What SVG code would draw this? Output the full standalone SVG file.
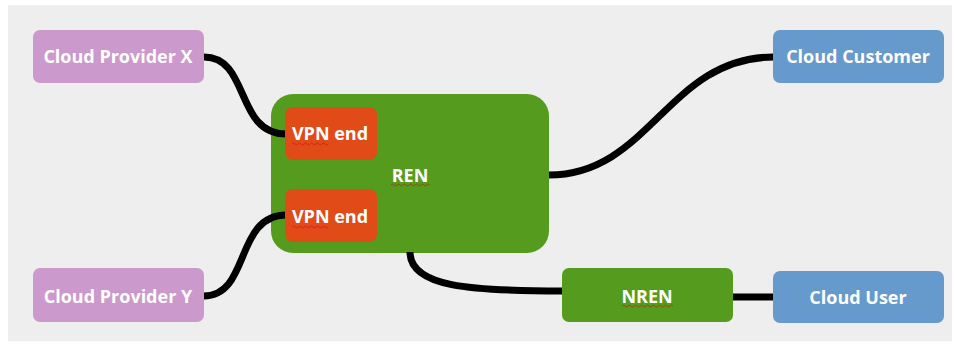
<svg xmlns="http://www.w3.org/2000/svg" width="954" height="344" viewBox="0 0 954 344">
<style>
  .lbl { font-family: "Open Sans", "DejaVu Sans", sans-serif; font-weight: bold; font-size: 18px; fill: #ffffff; text-anchor: middle; dominant-baseline: central; }
  .conn { fill: none; stroke: #000000; stroke-width: 7; }
  .spell { fill: none; stroke: #e02020; stroke-width: 1; }
  .purple { fill: #cc99cc; }
  .blue { fill: #6699cc; }
  .green { fill: #559c1e; }
  .orange { fill: #e04b17; }
</style>
<rect x="8" y="5" width="944" height="336" fill="#eeeeee"/>
<g id="ren">
  <rect class="green" x="271" y="94" width="278" height="159" rx="22"/>
  <text class="lbl" x="410" y="175">REN</text>
  <path class="spell" d="M391,185 q1.5,-2 3,0 t3,0 t3,0 t3,0 t3,0 t3,0 t3,0 t3,0 t3,0 t3,0 t3,0 t3,0 t3,0"/>
</g>
<g id="connectors">
  <path class="conn" d="M204,57 C250,57 235,134 286,134"/>
  <path class="conn" d="M204,296 C250,296 235,215 286,215"/>
  <path class="conn" d="M549,175 C650,175 668,57 774,57"/>
  <path class="conn" d="M410,252 C410,287 470,291 563,291"/>
  <path class="conn" d="M732,297 L774,297"/>
</g>
<g id="vpn1">
  <rect class="orange" x="285" y="107" width="92" height="53" rx="8"/>
  <text class="lbl" x="330" y="133">VPN end</text>
  <path class="spell" d="M292,144 q1.5,-2 3,0 t3,0 t3,0 t3,0 t3,0 t3,0 t3,0 t3,0 t3,0 t3,0 t3,0 t3,0"/>
</g>
<g id="vpn2">
  <rect class="orange" x="285" y="189" width="92" height="53" rx="8"/>
  <text class="lbl" x="330" y="216">VPN end</text>
  <path class="spell" d="M292,227 q1.5,-2 3,0 t3,0 t3,0 t3,0 t3,0 t3,0 t3,0 t3,0 t3,0 t3,0 t3,0 t3,0"/>
</g>
<g id="cloud-provider-x">
  <rect class="purple" x="33" y="30" width="171" height="53" rx="7"/>
  <text class="lbl" x="118" y="56">Cloud Provider X</text>
</g>
<g id="cloud-provider-y">
  <rect class="purple" x="33" y="268" width="171" height="54" rx="7"/>
  <text class="lbl" x="118" y="296">Cloud Provider Y</text>
</g>
<g id="cloud-customer">
  <rect class="blue" x="773" y="30" width="171" height="53" rx="7"/>
  <text class="lbl" x="858" y="56">Cloud Customer</text>
</g>
<g id="nren">
  <rect class="green" x="562" y="268" width="171" height="54" rx="7"/>
  <text class="lbl" x="647" y="296">NREN</text>
  <path class="spell" d="M622,306 q1.5,-2 3,0 t3,0 t3,0 t3,0 t3,0 t3,0 t3,0 t3,0 t3,0 t3,0 t3,0 t3,0 t3,0 t3,0 t3,0 t3,0 t3,0"/>
</g>
<g id="cloud-user">
  <rect class="blue" x="773" y="271" width="171" height="52" rx="7"/>
  <text class="lbl" x="858" y="297">Cloud User</text>
</g>
</svg>
